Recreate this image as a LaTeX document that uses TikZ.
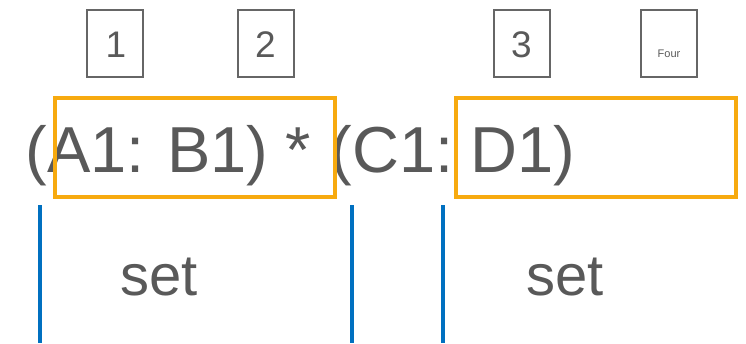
\documentclass[tikz,border=0pt]{standalone}
\usepackage{fontspec}
\setmainfont{Liberation Sans}
\definecolor{txtgray}{HTML}{595959}
\definecolor{boxgray}{HTML}{666666}
\definecolor{hiorange}{HTML}{F7AA0F}
\definecolor{lineblue}{HTML}{0070C0}
\begin{document}
\begin{tikzpicture}[x=1pt,y=-1pt,
  cellbox/.style={draw=boxgray,line width=2pt,minimum width=56pt,minimum height=67pt,inner sep=0pt},
  celltxt/.style={text=txtgray,font=\fontsize{37}{38}\selectfont,inner sep=0pt,anchor=base},
  smalltxt/.style={text=txtgray,font=\fontsize{11}{12}\selectfont,inner sep=0pt,anchor=base},
  bigtxt/.style={text=txtgray,font=\fontsize{65}{66}\selectfont,inner sep=0pt,anchor=base west},
  settxt/.style={text=txtgray,font=\fontsize{58}{60}\selectfont,inner sep=0pt,anchor=base west},
  rangebox/.style={draw=hiorange,line width=4pt},
  sepline/.style={draw=lineblue,line width=4pt}]
\useasboundingbox (0,0) rectangle (746,343);
% top cells
\node[cellbox] (c1) at (115,43) {};
\node[cellbox] (c2) at (265.5,43) {};
\node[cellbox] (c3) at (521.5,43) {};
\node[cellbox] (c4) at (669,43) {};
\node[celltxt] (t1) at (116,57) {1};
\node[celltxt] (t2) at (265.5,57) {2};
\node[celltxt] (t3) at (521.5,57) {3};
\node[smalltxt] (t4) at (669,57) {Four};
% formula
\node[bigtxt] (f1) at (25.5,172) {(A1:};
\node[bigtxt] (f2) at (167,172) {B1)};
\node[bigtxt] (f3) at (285,172) {*};
\node[bigtxt] (f4) at (330.5,172) {(C1:};
\node[bigtxt] (f5) at (470,172) {D1)};
% orange range boxes
\draw[rangebox] (55,98) rectangle (335,197);
\draw[rangebox] (456,98) rectangle (736,197);
% blue separator lines
\coordinate (l1a) at (39.5,205); \coordinate (l1b) at (39.5,343);
\coordinate (l2a) at (352,205);  \coordinate (l2b) at (352,343);
\coordinate (l3a) at (443,205);  \coordinate (l3b) at (443,343);
\draw[sepline] (l1a) -- (l1b);
\draw[sepline] (l2a) -- (l2b);
\draw[sepline] (l3a) -- (l3b);
% set labels
\node[settxt] (s1) at (120,295) {set};
\node[settxt] (s2) at (526,295) {set};
\end{tikzpicture}
\end{document}
